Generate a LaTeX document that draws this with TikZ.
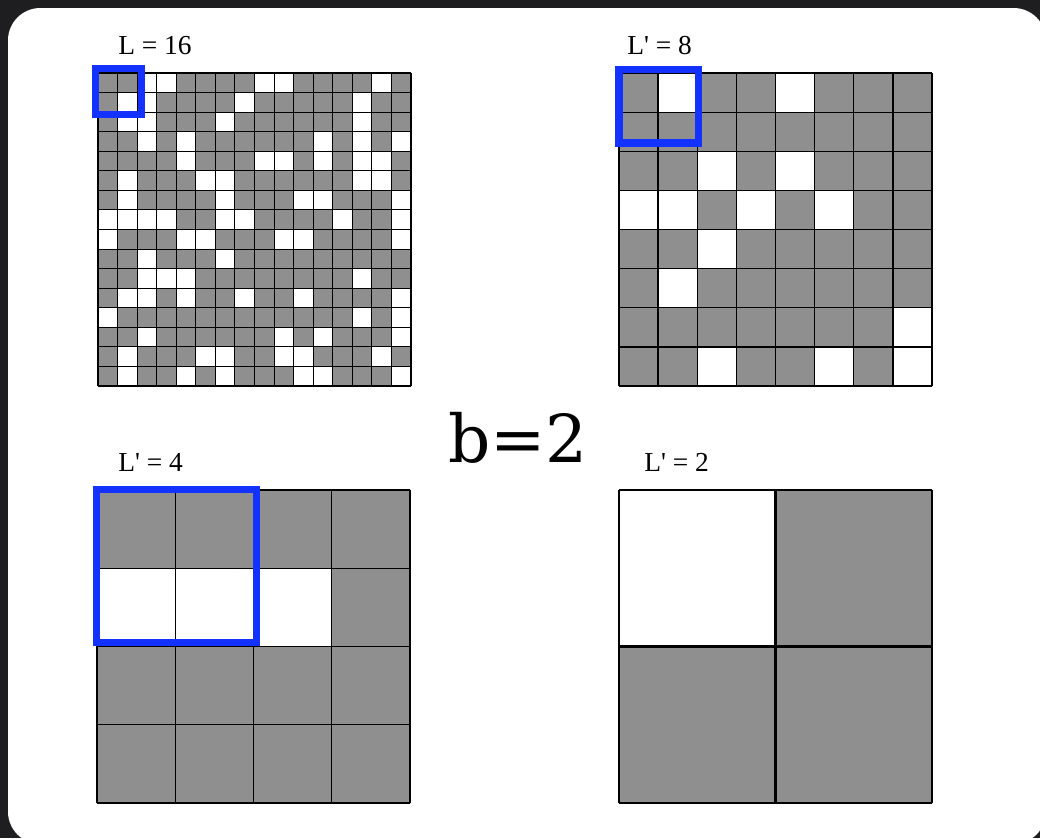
\documentclass[tikz,border=0pt]{standalone}
\usepackage{fontspec}
\setmainfont{Liberation Serif}
\newfontfamily\bigfont{DejaVu Serif}
\usetikzlibrary{positioning}
\definecolor{cellgray}{RGB}{143,143,143}
\definecolor{frameblue}{RGB}{20,50,255}
\definecolor{slate}{RGB}{30,30,32}
\tikzset{
  cell/.style  ={fill=cellgray},
  hole/.style  ={fill=white},
  blk/.style   ={draw=frameblue,line width=5pt},
  lbl/.style   ={font=\fontsize{19.5}{20}\selectfont,inner sep=0pt,anchor=base west},
  big/.style   ={font=\bigfont\fontsize{47}{47}\selectfont,inner sep=0pt,anchor=base},
}
% #1,#2 corner (px), #3 cells per side, #4 cell size (px), #5 white cells row/{cols}, #6 line width
\newcommand\cellgrid[6]{%
  \begin{scope}[shift={(#1,#2)},scale=#4]
    \fill[cell] (0,0) rectangle (#3,#3);
    \foreach \r/\cs in {#5}
      \foreach \c in \cs
        \fill[hole] (\c,\r) rectangle ++(1,1);
    \foreach \i in {0,...,#3} {
      \draw[line width=#6] (\i,0) -- (\i,#3);
      \draw[line width=#6] (0,\i) -- (#3,\i);
    }
  \end{scope}}
\newcommand\Lp{L\textquotesingle}

\begin{document}
\begin{tikzpicture}[x=0.025cm,y=-0.025cm]
  \useasboundingbox (0,0) rectangle (1040,838);
  \fill[slate] (0,0) rectangle (1040,838);
  \fill[white,rounded corners=23pt] (8,8) rectangle (1046,844);

  % L = 16
  \cellgrid{98}{73}{16}{19.5625}{0/{2,3,8,9,14},1/{1,2,7,13},2/{1,2,6,13},
    3/{2,4,11,13,15},4/{4,8,9,11,13,14},5/{1,5,6,13,14},6/{1,6,10,11,15},
    7/{0,1,2,3,6,7,12,15},8/{0,4,5,9,10,15},9/{2,6},10/{2,3,4,13},
    11/{1,2,4,7,10,15},12/{0,13,15},13/{2,9,11,15},14/{1,5,6,9,10,14},
    15/{1,4,6,10,11,15}}{0.75pt}
  % L' = 8
  \cellgrid{619}{73}{8}{39.125}{0/{1,4},2/{2,4},3/{0,1,3,5},4/{2},5/{1},
    6/{7},7/{2,5,7}}{0.9pt}
  % L' = 4
  \cellgrid{97}{490}{4}{78.25}{1/{0,1,2}}{0.9pt}
  % L' = 2
  \cellgrid{619}{490}{2}{156.5}{0/{0}}{2pt}

  \draw[blk] (95.5,68.5) rectangle (141.5,114.5);
  \draw[blk] (619,69.5) rectangle (698.5,143);
  \draw[blk] (96.5,489.5) rectangle (256.5,642.5);

  \node[lbl] (t16) at (118,54) {L = 16};
  \node[lbl] (t8)  at (627,54) {\Lp{} = 8};
  \node[lbl] (t4)  at (118,471) {\Lp{} = 4};
  \node[lbl] (t2)  at (644,471) {\Lp{} = 2};
  \node[big] (bb)  at (518,462) {b=2};
\end{tikzpicture}
\end{document}
